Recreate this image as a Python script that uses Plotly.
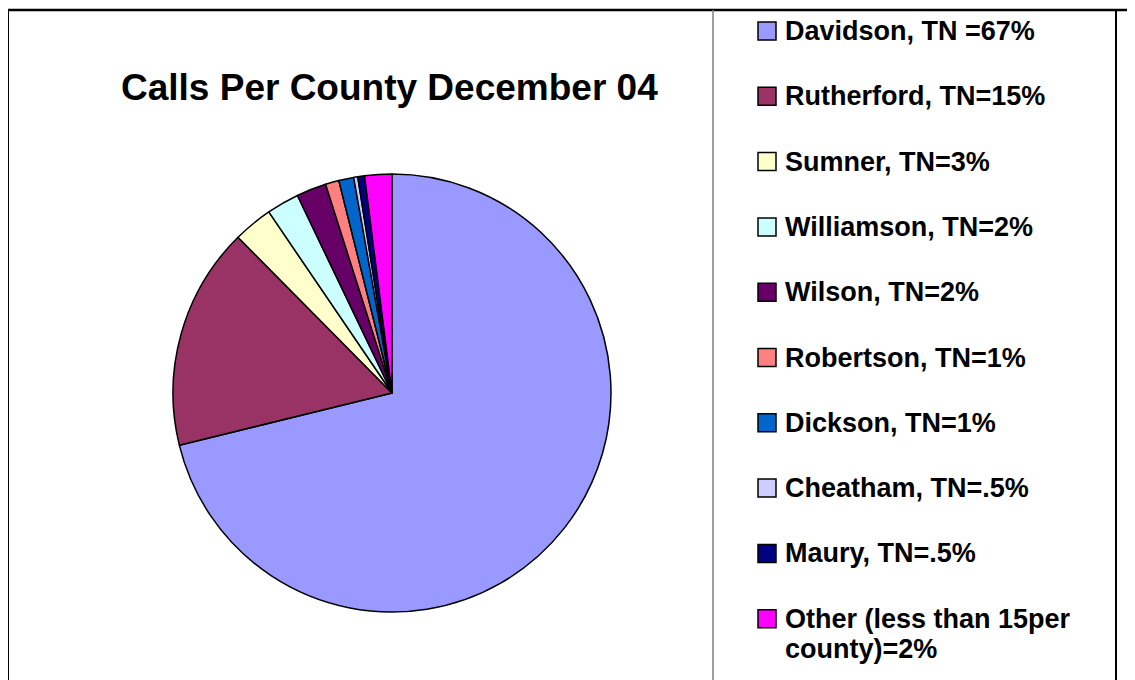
import plotly.graph_objects as go

W, H = 1135, 680

counties = ["Davidson", "Rutherford", "Sumner", "Williamson", "Wilson",
            "Robertson", "Dickson", "Cheatham", "Maury", "Other"]
values = [71.1, 16.4, 2.9, 2.4, 2.2, 1.0, 1.1, 0.3, 0.5, 2.0]
legend_labels = ["Davidson, TN =67%", "Rutherford, TN=15%", "Sumner, TN=3%",
                 "Williamson, TN=2%", "Wilson, TN=2%", "Robertson, TN=1%",
                 "Dickson, TN=1%", "Cheatham, TN=.5%", "Maury, TN=.5%",
                 "Other (less than 15per<br>county)=2%"]
colors = ["#9999FF", "#993366", "#FFFFCC", "#CCFFFF", "#660066",
          "#FF8080", "#0066CC", "#CCCCFF", "#000080", "#FF00FF"]
title_text = "Calls Per County December 04"

FONT = "Liberation Sans, Arial, sans-serif"

OFF = 8  # page body margin


def px(x):
    return (x - OFF) / W


def py(y):
    return 1 - (y - OFF) / H


cx, cy, r = 392, 393, 219

fig = go.Figure()
fig.add_trace(go.Pie(
    labels=counties, values=values, sort=False, direction="clockwise",
    rotation=0, textinfo="none", hoverinfo="label+percent",
    marker=dict(colors=colors, line=dict(color="black", width=1.5)),
    domain=dict(x=[px(cx - r), px(cx + r)], y=[py(cy + r), py(cy - r)]),
    showlegend=False,
))

shapes = []
annotations = []

# outer frame
shapes.append(dict(type="line", xref="paper", yref="paper",
                   x0=px(7.5), x1=px(1150), y0=py(10), y1=py(10),
                   line=dict(color="black", width=2.5)))
shapes.append(dict(type="line", xref="paper", yref="paper",
                   x0=px(8), x1=px(8), y0=py(700), y1=py(10),
                   line=dict(color="black", width=2)))
# legend box
shapes.append(dict(type="line", xref="paper", yref="paper",
                   x0=px(713), x1=px(713), y0=py(700), y1=py(10),
                   line=dict(color="#808080", width=1.5)))
shapes.append(dict(type="line", xref="paper", yref="paper",
                   x0=px(1116), x1=px(1116), y0=py(700), y1=py(10),
                   line=dict(color="black", width=2)))

# title
annotations.append(dict(text="<b>" + title_text + "</b>", xref="paper", yref="paper",
                        x=px(389), y=py(87), xanchor="center", yanchor="middle",
                        showarrow=False, font=dict(family=FONT, size=37, color="black")))

# legend
row0, gap, line_gap = 31, 65.3, 30
for i, (lab, col) in enumerate(zip(legend_labels, colors)):
    yc = row0 + gap * i
    shapes.append(dict(type="rect", xref="paper", yref="paper",
                       x0=px(758), x1=px(776), y0=py(yc + 9), y1=py(yc - 9),
                       fillcolor=col, line=dict(color="black", width=1.5)))
    for j, part in enumerate(lab.split("<br>")):
        annotations.append(dict(text="<b>" + part + "</b>", xref="paper", yref="paper",
                                x=px(783), y=py(yc - 17 + j * line_gap),
                                xanchor="left", yanchor="top",
                                align="left", showarrow=False,
                                font=dict(family=FONT, size=27, color="black")))

fig.update_layout(
    width=W, height=H,
    margin=dict(l=0, r=0, t=0, b=0),
    paper_bgcolor="white", plot_bgcolor="white",
    shapes=shapes, annotations=annotations,
)

fig.write_html("out.html")
